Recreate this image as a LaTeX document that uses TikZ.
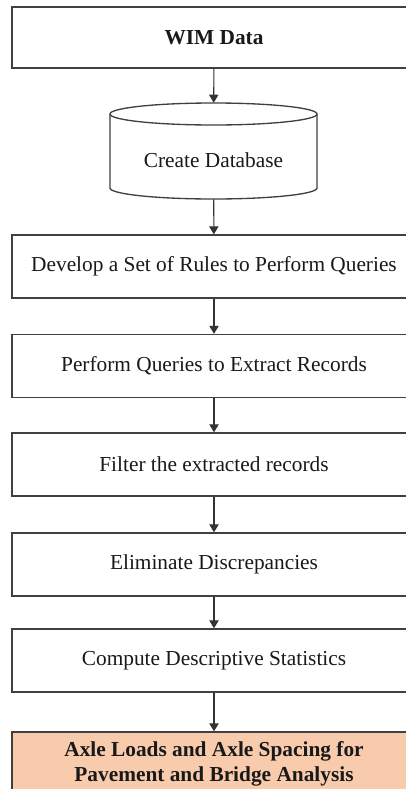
\documentclass[tikz,border=0pt]{standalone}
\usepackage{fontspec}
\setmainfont{Liberation Serif}
\usetikzlibrary{arrows.meta}
\definecolor{boxline}{RGB}{64,64,64}
\definecolor{resultfill}{RGB}{248,203,173}

\begin{document}
\begin{tikzpicture}[x=0.75pt,y=0.75pt,yscale=-1,xscale=1,
  stepfont/.style={font=\fontsize{16}{18.75}\selectfont},
  procbox/.style={draw=boxline, line width=1pt, fill=white, text=black!90, stepfont,
    minimum width=303pt, minimum height=47.25pt, inner sep=0.75pt, align=center},
  flow/.style={draw=black!80, line width=0.8pt, -{Triangle[width=7pt,length=6pt]}}]
%set diagram size to 406 x 789
\useasboundingbox (0,0) rectangle (406,789);

%Shape: Rectangle
\node[procbox, minimum height=45.75pt, font=\fontsize{16}{18.75}\selectfont\bfseries] (wim) at (214,37.5) {WIM Data};
%Shape: Can
\draw[boxline, line width=1pt, fill=white] (110,114) -- (110,188) arc[start angle=180, end angle=0, x radius=103.5, y radius=11] -- (317,114);
\draw[boxline, line width=1pt] (213.5,114) ellipse [x radius=103.5, y radius=11];
\node[minimum width=155.25pt, minimum height=72pt, inner sep=0pt,
  label={[stepfont, text=black!90, yshift=-6.75pt]center:Create Database}] (db) at (213.5,151) {};
%Shape: Rectangle
\node[procbox] (rules) at (214,266.5) {Develop a Set of Rules to Perform Queries};
%Shape: Rectangle
\node[procbox] (query) at (214,366) {Perform Queries to Extract Records};
%Shape: Rectangle
\node[procbox] (filter) at (214,464.5) {Filter the extracted records};
%Shape: Rectangle
\node[procbox] (discr) at (214,564.5) {Eliminate Discrepancies};
%Shape: Rectangle
\node[procbox] (stats) at (214,660.5) {Compute Descriptive Statistics};
%Shape: Rectangle
\node[procbox, fill=resultfill, font=\fontsize{16}{18.75}\selectfont\bfseries] (axle) at (214,763.5) {Axle Loads and Axle Spacing for\\Pavement and Bridge Analysis};

%Straight Lines
\draw[flow] (wim) -- (db);
\draw[flow] (db) -- (rules);
\draw[flow] (rules) -- (query);
\draw[flow] (query) -- (filter);
\draw[flow] (filter) -- (discr);
\draw[flow] (discr) -- (stats);
\draw[flow] (stats) -- (axle);

\end{tikzpicture}
\end{document}
